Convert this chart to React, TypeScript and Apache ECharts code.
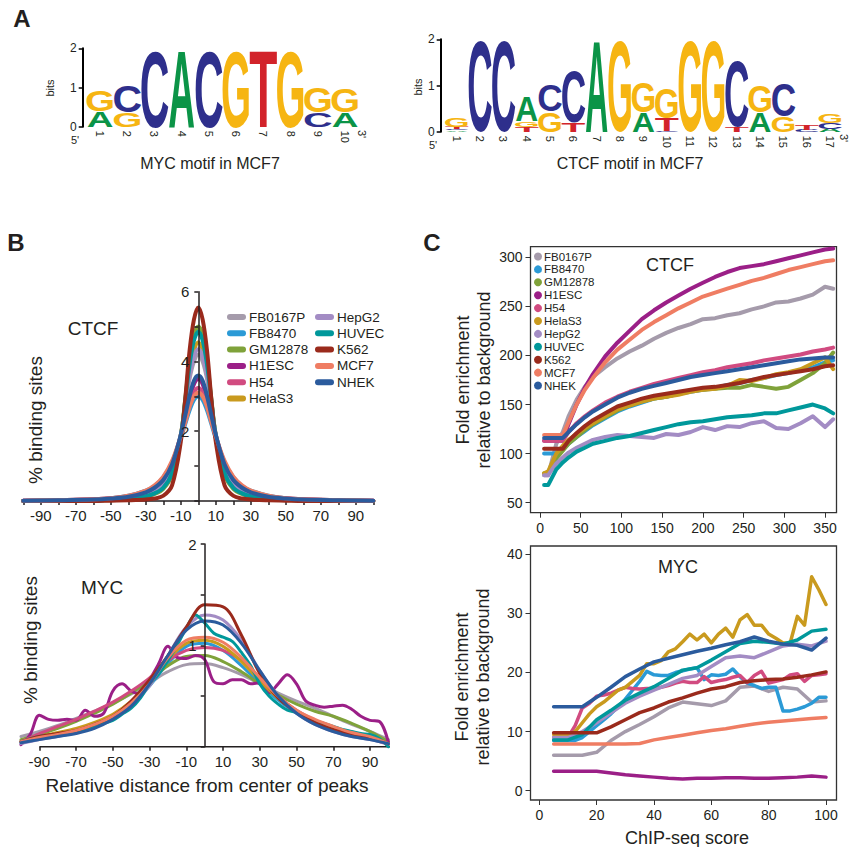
import React, { useEffect, useRef } from 'react';
import * as echarts from 'echarts';

const FONT = '"Liberation Sans", Arial, Helvetica, sans-serif';
const INK_COLOR = '#231f20';

// ---------- Panel A: sequence logos ----------
const LETTER_INDEX = ['A', 'C', 'G', 'T'];
const LOGO_COLORS: Record<string, string> = { A: '#0b9447', C: '#2e2f8c', G: '#f6b512', T: '#d2232a' };
const mycLogoPositions = ['1', '2', '3', '4', '5', '6', '7', '8', '9', '10'];
const mycLogoLetters = [['A', 'G'], ['G', 'C'], ['C'], ['A'], ['C'], ['G'], ['T'], ['G'], ['C', 'G'], ['A', 'G']];
const mycLogoBits = [[0.4, 0.55], [0.38, 0.66], [1.97], [2.0], [1.97], [1.97], [2.0], [1.97], [0.37, 0.63], [0.36, 0.62]];
const ctcfLogoPositions = ['1', '2', '3', '4', '5', '6', '7', '8', '9', '10', '11', '12', '13', '14', '15', '16', '17'];
const ctcfLogoLetters = [
  ['A', 'C', 'T', 'G'], ['C'], ['C'], ['T', 'G', 'A'], ['G', 'C'], ['T', 'C'], ['A'], ['G'], ['A', 'G'],
  ['C', 'T', 'G'], ['G'], ['G'], ['T', 'C'], ['A', 'G'], ['G', 'C'], ['C', 'T'], ['A', 'C', 'G'],
];
const ctcfLogoBits = [
  [0.03, 0.03, 0.04, 0.2], [1.97], [1.97], [0.1, 0.12, 0.55], [0.43, 0.56], [0.2, 1.12], [2.0], [1.97], [0.43, 0.65],
  [0.03, 0.27, 0.66], [1.97], [1.97], [0.12, 1.43], [0.43, 0.58], [0.33, 0.72], [0.04, 0.1], [0.07, 0.13, 0.2],
];

// ---------- Cell lines ----------
const cellLines = ['FB0167P', 'FB8470', 'GM12878', 'H1ESC', 'H54', 'HelaS3', 'HepG2', 'HUVEC', 'K562', 'MCF7', 'NHEK'];
const cellColors: Record<string, string> = {
  FB0167P: '#a59bab', FB8470: '#2b9ad6', GM12878: '#7fa23a', H1ESC: '#9b1f87', H54: '#d14b80', HelaS3: '#c99a1e',
  HepG2: '#a38cc4', HUVEC: '#00989b', K562: '#9a2a1c', MCF7: '#ef7d63', NHEK: '#2b5b9d',
};

// ---------- Panel B upper: CTCF distance profile ----------
const ctcfDistX = [-100, -80, -60, -50, -40, -30, -25, -20, -15, -10, -7.5, -5, -2.5, 0, 2.5, 5, 7.5, 10, 15, 20, 25, 30, 40, 50, 60, 80, 100];
const ctcfDist: Record<string, number[]> = {
  FB0167P: [0, 0.01, 0.03, 0.05, 0.1, 0.2, 0.3, 0.5, 0.95, 1.9, 2.7, 3.5, 4.0, 4.2, 4.0, 3.5, 2.7, 1.9, 0.95, 0.5, 0.3, 0.2, 0.1, 0.05, 0.03, 0.01, 0],
  FB8470: [0.01, 0.02, 0.05, 0.08, 0.15, 0.3, 0.43, 0.68, 1.1, 1.8, 2.2, 2.6, 2.9, 3.0, 2.9, 2.6, 2.2, 1.8, 1.1, 0.68, 0.43, 0.3, 0.15, 0.08, 0.05, 0.02, 0.01],
  GM12878: [0, 0.01, 0.02, 0.03, 0.06, 0.13, 0.2, 0.35, 0.75, 1.85, 2.9, 4.0, 4.75, 5.0, 4.75, 4.0, 2.9, 1.85, 0.75, 0.35, 0.2, 0.13, 0.06, 0.03, 0.02, 0.01, 0],
  H1ESC: [0.01, 0.02, 0.04, 0.07, 0.12, 0.25, 0.38, 0.6, 1.05, 1.85, 2.35, 2.9, 3.35, 3.5, 3.35, 2.9, 2.35, 1.85, 1.05, 0.6, 0.38, 0.25, 0.12, 0.07, 0.04, 0.02, 0.01],
  H54: [0.01, 0.02, 0.05, 0.08, 0.14, 0.28, 0.42, 0.65, 1.1, 1.85, 2.3, 2.75, 3.1, 3.25, 3.1, 2.75, 2.3, 1.85, 1.1, 0.65, 0.42, 0.28, 0.14, 0.08, 0.05, 0.02, 0.01],
  HelaS3: [0, 0.01, 0.02, 0.04, 0.08, 0.16, 0.25, 0.42, 0.85, 1.9, 2.8, 3.7, 4.3, 4.55, 4.3, 3.7, 2.8, 1.9, 0.85, 0.42, 0.25, 0.16, 0.08, 0.04, 0.02, 0.01, 0],
  HepG2: [0, 0.01, 0.03, 0.05, 0.09, 0.18, 0.27, 0.45, 0.9, 1.9, 2.75, 3.6, 4.15, 4.35, 4.15, 3.6, 2.75, 1.9, 0.9, 0.45, 0.27, 0.18, 0.09, 0.05, 0.03, 0.01, 0],
  HUVEC: [0, 0.01, 0.02, 0.04, 0.07, 0.14, 0.22, 0.38, 0.8, 1.85, 2.85, 3.9, 4.6, 4.85, 4.6, 3.9, 2.85, 1.85, 0.8, 0.38, 0.22, 0.14, 0.07, 0.04, 0.02, 0.01, 0],
  K562: [0, 0, 0, 0.01, 0.02, 0.04, 0.07, 0.15, 0.45, 1.7, 2.9, 4.3, 5.2, 5.55, 5.2, 4.3, 2.9, 1.7, 0.45, 0.15, 0.07, 0.04, 0.02, 0.01, 0, 0, 0],
  MCF7: [0.01, 0.02, 0.05, 0.08, 0.15, 0.3, 0.45, 0.7, 1.15, 1.85, 2.25, 2.7, 3.0, 3.1, 3.0, 2.7, 2.25, 1.85, 1.15, 0.7, 0.45, 0.3, 0.15, 0.08, 0.05, 0.02, 0.01],
  NHEK: [0.01, 0.02, 0.04, 0.07, 0.12, 0.25, 0.38, 0.6, 1.05, 1.9, 2.45, 3.0, 3.45, 3.6, 3.45, 3.0, 2.45, 1.9, 1.05, 0.6, 0.38, 0.25, 0.12, 0.07, 0.04, 0.02, 0.01],
};

// ---------- Panel B lower: MYC distance profile ----------
const mycDistX = [-100, -90, -80, -70, -60, -50, -40, -30, -20, -10, 0, 10, 20, 30, 40, 50, 60, 70, 80, 90, 100];
const mycDistFineX = [-100, -95, -90, -85, -80, -75, -70, -65, -60, -55, -50, -45, -40, -35, -30, -25, -20, -15, -10, -5, 0, 5, 10, 15, 20, 25, 30, 35, 40, 45, 50, 55, 60, 65, 70, 75, 80, 85, 90, 95, 100];
const mycDistAxisExtent = [-90, 101];
const mycDist: Record<string, number[]> = {
  FB0167P: [0.1, 0.15, 0.21, 0.28, 0.35, 0.43, 0.52, 0.63, 0.74, 0.81, 0.82, 0.78, 0.71, 0.62, 0.53, 0.45, 0.38, 0.3, 0.22, 0.15, 0.07],
  FB8470: [0.05, 0.1, 0.13, 0.17, 0.22, 0.3, 0.42, 0.6, 0.82, 0.99, 1.02, 0.95, 0.8, 0.62, 0.46, 0.33, 0.24, 0.17, 0.12, 0.08, 0.03],
  GM12878: [0.07, 0.12, 0.18, 0.25, 0.33, 0.42, 0.53, 0.66, 0.8, 0.89, 0.9, 0.84, 0.74, 0.62, 0.51, 0.42, 0.35, 0.3, 0.23, 0.15, 0.05],
  H54: [0.05, 0.13, 0.2, 0.27, 0.35, 0.44, 0.55, 0.68, 0.85, 0.95, 0.98, 0.95, 0.85, 0.68, 0.5, 0.36, 0.26, 0.18, 0.12, 0.08, 0.02],
  HelaS3: [0.05, 0.1, 0.14, 0.18, 0.24, 0.32, 0.45, 0.63, 0.86, 1.02, 1.05, 0.99, 0.84, 0.65, 0.48, 0.34, 0.25, 0.18, 0.13, 0.09, 0.03],
  HepG2: [0.03, 0.07, 0.1, 0.14, 0.2, 0.28, 0.4, 0.6, 0.9, 1.18, 1.3, 1.25, 1.05, 0.75, 0.5, 0.33, 0.22, 0.15, 0.1, 0.07, 0.03],
  K562: [0.05, 0.1, 0.13, 0.16, 0.22, 0.3, 0.45, 0.66, 0.9, 1.18, 1.4, 1.38, 1.1, 0.72, 0.48, 0.34, 0.24, 0.17, 0.12, 0.09, 0.03],
  MCF7: [0.05, 0.09, 0.12, 0.16, 0.22, 0.3, 0.43, 0.62, 0.88, 1.05, 1.08, 1.03, 0.88, 0.68, 0.5, 0.36, 0.27, 0.2, 0.14, 0.1, 0.03],
  NHEK: [0.04, 0.07, 0.1, 0.13, 0.18, 0.27, 0.4, 0.62, 0.9, 1.15, 1.24, 1.2, 1.02, 0.75, 0.5, 0.33, 0.22, 0.15, 0.1, 0.07, 0.03],
};
const mycDistFine: Record<string, number[]> = {
  H1ESC: [0.02, 0.12, 0.31, 0.27, 0.26, 0.27, 0.26, 0.36, 0.3, 0.33, 0.55, 0.62, 0.55, 0.52, 0.66, 0.82, 0.99, 0.88, 0.87, 0.9, 0.86, 0.64, 0.62, 0.66, 0.66, 0.62, 0.63, 0.53, 0.62, 0.71, 0.62, 0.45, 0.41, 0.39, 0.4, 0.41, 0.37, 0.3, 0.26, 0.25, 0.04],
  HUVEC: [0.05, 0.08, 0.1, 0.11, 0.12, 0.13, 0.15, 0.17, 0.2, 0.23, 0.26, 0.32, 0.38, 0.48, 0.62, 0.72, 0.85, 1.0, 1.17, 1.3, 1.22, 1.12, 1.08, 1.04, 0.93, 0.8, 0.62, 0.5, 0.42, 0.36, 0.34, 0.3, 0.26, 0.23, 0.2, 0.17, 0.15, 0.13, 0.12, 0.08, 0.0],
};

// ---------- Panel C upper: CTCF fold enrichment ----------
const ctcfScoreX = [5, 10, 20, 28, 35, 45, 55, 65, 80, 95, 110, 125, 140, 155, 170, 185, 200, 215, 230, 245, 260, 275, 290, 305, 320, 335, 350, 360];
const ctcfFold: Record<string, number[]> = {
  FB0167P: [78, 78, 110, 122, 138, 155, 168, 178, 188, 197, 204, 210, 217, 223, 228, 232, 237, 238, 241, 243, 247, 250, 254, 255, 258, 262, 270, 268],
  FB8470: [100, 100, 100, 104, 110, 117, 123, 129, 136, 143, 148, 152, 156, 158, 161, 163, 165, 167, 170, 172, 175, 177, 180, 182, 185, 188, 193, 195],
  GM12878: [80, 80, 95, 103, 110, 117, 124, 130, 137, 144, 149, 153, 156, 158, 161, 164, 165, 166, 167, 167, 170, 168, 166, 168, 175, 182, 192, 203],
  H1ESC: [113, 113, 113, 113, 130, 150, 167, 181, 199, 213, 225, 237, 246, 254, 261, 268, 274, 280, 285, 289, 291, 293, 296, 299, 302, 305, 308, 309],
  H54: [113, 113, 113, 113, 122, 131, 138, 144, 152, 158, 163, 167, 171, 174, 177, 180, 183, 185, 188, 190, 192, 195, 197, 199, 201, 204, 206, 208],
  HelaS3: [80, 82, 100, 108, 114, 120, 126, 131, 138, 145, 149, 153, 156, 158, 160, 163, 165, 166, 169, 175, 174, 177, 181, 183, 186, 192, 198, 186],
  HepG2: [78, 78, 90, 96, 101, 106, 110, 114, 117, 119, 118, 117, 116, 120, 119, 122, 127, 124, 128, 127, 131, 133, 126, 125, 131, 138, 127, 135],
  HUVEC: [68, 68, 84, 91, 96, 102, 106, 110, 113, 116, 118, 121, 124, 127, 130, 132, 133, 135, 137, 138, 139, 141, 141, 144, 147, 150, 146, 141],
  K562: [105, 105, 105, 105, 113, 121, 128, 134, 141, 148, 152, 156, 159, 161, 163, 165, 167, 168, 170, 172, 175, 178, 180, 182, 184, 186, 189, 190],
  MCF7: [119, 119, 119, 119, 132, 150, 165, 177, 193, 206, 216, 226, 234, 241, 248, 254, 260, 264, 268, 272, 276, 279, 283, 287, 290, 293, 296, 297],
  NHEK: [116, 116, 116, 116, 122, 130, 137, 143, 150, 157, 162, 166, 169, 172, 175, 178, 180, 182, 184, 186, 188, 190, 192, 194, 196, 197, 198, 198],
};

// ---------- Panel C lower: MYC fold enrichment ----------
const mycScoreX = [5, 10, 15, 20, 25, 30, 35, 40, 45, 50, 55, 60, 65, 70, 75, 80, 85, 90, 95, 100];
const mycScoreFineX = [5, 7.5, 10, 12.5, 15, 17.5, 20, 22.5, 25, 27.5, 30, 32.5, 35, 37.5, 40, 42.5, 45, 47.5, 50, 52.5, 55, 57.5, 60, 62.5, 65, 67.5, 70, 72.5, 75, 77.5, 80, 82.5, 85, 87.5, 90, 92.5, 95, 97.5, 100];
const mycFold: Record<string, number[]> = {
  FB0167P: [6, 6, 6, 6.5, 8.5, 10, 11.2, 12.5, 14, 15, 14.7, 14.4, 15.2, 17.5, 17.7, 16.8, 17.5, 17.2, 15, 15.2],
  H1ESC: [3.3, 3.3, 3.3, 3.3, 3.0, 2.7, 2.5, 2.3, 2.1, 2.0, 2.1, 2.1, 2.2, 2.2, 2.1, 2.1, 2.2, 2.3, 2.5, 2.3],
  HepG2: [9, 9, 10, 11.5, 13.2, 14.8, 16, 17, 18, 19, 19.5, 21, 22.5, 22.8, 22.5, 23.5, 24.5, 24.8, 24.5, 25.3],
  HUVEC: [8.6, 8.6, 9.5, 12, 13.6, 15.3, 16.5, 17.6, 19, 20.4, 20.8, 22.1, 23.5, 24.9, 25.3, 25.1, 24.8, 25.5, 27, 27.3],
  K562: [9.8, 9.8, 9.8, 9.8, 10.8, 12, 13.2, 14, 15, 15.7, 16.5, 17.2, 17.6, 18.3, 18.6, 18.8, 18.9, 19.2, 19.6, 20.1],
  MCF7: [7.9, 7.9, 7.9, 7.9, 7.9, 7.9, 8.0, 8.6, 9.0, 9.4, 9.8, 10.2, 10.5, 10.9, 11.3, 11.6, 11.8, 12.0, 12.2, 12.4],
  NHEK: [14.2, 14.2, 14.2, 15.8, 17.5, 19.3, 20.6, 21.8, 22.4, 23.0, 23.6, 24.1, 24.7, 25.2, 26, 25.3, 24.8, 24.6, 23.8, 25.8],
};
const mycFoldFine: Record<string, number[]> = {
  FB8470: [8.5, 8.5, 8.5, 8.5, 9, 10, 11, 12, 13, 14.2, 15.5, 17, 18.5, 20.2, 19.6, 19.5, 19.5, 20, 20.3, 20.6, 20.8, 18.8, 19.6, 19.5, 19.7, 20.6, 19.3, 18.2, 17.8, 17.3, 17.5, 17.5, 13.5, 13.5, 13.8, 14.2, 14.8, 15.8, 15.8],
  H54: [9, 9, 9, 11, 14, 14.8, 16, 16.2, 16.5, 17, 17.5, 17.3, 17.2, 17.3, 17.3, 17.5, 17.8, 18.2, 18.5, 18.3, 18.3, 19.3, 18.3, 18.6, 18.8, 19.2, 19.5, 18.3, 19.5, 20.2, 18.2, 18.5, 18.8, 19.6, 19.8, 18.5, 19.5, 19.6, 19.8],
  HelaS3: [9.5, 9.5, 9.5, 10, 11.5, 13, 14.2, 15, 16, 17, 17.5, 18.5, 19.5, 21.5, 21.5, 22, 23.5, 24, 25.2, 26.5, 25.5, 26.5, 25, 26.5, 27.5, 26, 28.9, 29.8, 28, 28, 26.5, 25.8, 25, 25, 29.5, 28, 36.2, 34, 31.5],
};
const mycFoldOrder = ['FB0167P', 'FB8470', 'H1ESC', 'H54', 'HelaS3', 'HepG2', 'HUVEC', 'K562', 'MCF7', 'NHEK'];

// ---------- Letter rendering constants ----------
const LFS = 40;
const CAP = 0.716;
const BASE = 0.3465;
const INK: Record<string, number> = { A: 0.72, C: 0.65, G: 0.69, T: 0.58 };

function buildLogo(letters: string[][], bits: number[][]) {
  const out: number[][] = [];
  letters.forEach((col, i) => {
    let base = 0;
    col.forEach((L, j) => {
      const h = bits[i][j];
      out.push([i, base, base + h, LETTER_INDEX.indexOf(L)]);
      base += h;
    });
  });
  return out;
}

function logoRenderItem(_params: any, api: any) {
  const pos = api.value(0);
  const y0 = api.value(1);
  const y1 = api.value(2);
  const L = LETTER_INDEX[api.value(3)];
  const pb = api.coord([pos, y0]);
  const pt = api.coord([pos, y1]);
  const bw = api.size([1, 0])[0];
  const h = pb[1] - pt[1];
  return {
    type: 'text',
    x: pb[0],
    y: pb[1],
    scaleX: (bw * 0.98) / (INK[L] * LFS),
    scaleY: h / (CAP * LFS),
    style: {
      text: L, x: 0, y: -BASE * LFS, fontSize: LFS, fontWeight: 'bold', fontFamily: FONT,
      fill: LOGO_COLORS[L], align: 'center', verticalAlign: 'middle',
    },
  };
}

function lineSeries(name: string, xs: number[], ys: number[], axis: number, width: number, smooth: boolean) {
  return {
    type: 'line', name, xAxisIndex: axis, yAxisIndex: axis,
    data: xs.map((x, i) => [x, ys[i]]),
    showSymbol: false, symbol: 'none', smooth: smooth ? 0.35 : false,
    lineStyle: { width, color: cellColors[name], cap: 'round', join: 'round' },
    itemStyle: { color: cellColors[name] },
    silent: true, clip: axis >= 4,
  };
}

function txt(text: string, x: number, y: number, size: number, opts: any = {}) {
  return {
    type: 'text', x, y, rotation: opts.rotation || 0, silent: true,
    style: {
      text, fontSize: size, fontFamily: FONT, fill: INK_COLOR, align: opts.align || 'center',
      verticalAlign: 'middle', fontWeight: opts.bold ? 'bold' : 'normal',
    },
  };
}

const capsule = 'path://M3,0 L16,0 A3,3 0 0 1 16,6 L3,6 A3,3 0 0 1 3,0 Z';

export default function App() {
  const ref = useRef<HTMLDivElement>(null);
  useEffect(() => {
    if (!ref.current) return;
    const chart = echarts.init(ref.current, undefined, { renderer: 'svg' });
    const axisLineStyle = { color: INK_COLOR, width: 1.5 };
    const labelBase = { color: INK_COLOR, fontFamily: FONT };

    const series: any[] = [];
    series.push({
      type: 'custom', xAxisIndex: 0, yAxisIndex: 0, renderItem: logoRenderItem,
      data: buildLogo(mycLogoLetters, mycLogoBits), encode: { x: 0, y: [1, 2] }, clip: false, silent: true,
    });
    series.push({
      type: 'custom', xAxisIndex: 1, yAxisIndex: 1, renderItem: logoRenderItem,
      data: buildLogo(ctcfLogoLetters, ctcfLogoBits), encode: { x: 0, y: [1, 2] }, clip: false, silent: true,
    });
    // baseline of the lower B panel (axis line drawn from -90 onward, as in the figure)
    series.push({
      type: 'line', name: 'baseline', xAxisIndex: 3, yAxisIndex: 3, silent: true, clip: false,
      data: mycDistAxisExtent.map((x) => [x, 0]), showSymbol: false, symbol: 'none', z: 1,
      lineStyle: { width: 1.5, color: INK_COLOR },
    });
    cellLines.forEach((n) => series.push(lineSeries(n, ctcfDistX, ctcfDist[n], 2, 4, true)));
    cellLines.forEach((n) => {
      series.push(mycDist[n]
        ? lineSeries(n, mycDistX, mycDist[n], 3, 3, true)
        : lineSeries(n, mycDistFineX, mycDistFine[n], 3, 3, true));
    });
    cellLines.forEach((n) => series.push(lineSeries(n, ctcfScoreX, ctcfFold[n], 4, 4, false)));
    mycFoldOrder.forEach((n) => {
      series.push(mycFold[n]
        ? lineSeries(n, mycScoreX, mycFold[n], 5, 3.5, false)
        : lineSeries(n, mycScoreFineX, mycFoldFine[n], 5, 3.5, false));
    });

    const logoY = (offset: number) => ({
      type: 'value', min: 0, max: 2, interval: 1, offset,
      axisLine: { show: true, lineStyle: { color: '#000', width: 2 } },
      axisTick: { show: true, length: 4, lineStyle: { color: '#000', width: 1.5 } },
      axisLabel: { ...labelBase, fontSize: 12, margin: 6 },
      splitLine: { show: false },
    });
    const logoX = (cats: string[]) => ({
      type: 'category', data: cats, boundaryGap: true,
      axisLine: { show: false }, axisTick: { show: false },
      axisLabel: { ...labelBase, fontSize: 11, rotate: -90, margin: 4, interval: 0 },
    });
    const cBoxX = (min: number, max: number, vals: number[]) => ({
      type: 'value', min, max, axisLine: { show: false, onZero: false },
      axisTick: { show: true, length: 5, customValues: vals, lineStyle: { color: '#333', width: 1 } },
      axisLabel: { ...labelBase, fontSize: 14, margin: 8, customValues: vals },
      splitLine: { show: false },
    });

    const option: any = {
      animation: false,
      backgroundColor: '#ffffff',
      grid: [
        { left: 86.4, top: 48.3, width: 272.2, height: 78.4 },
        { left: 445, top: 39.3, width: 396.7, height: 92.4 },
        { left: 23.3, top: 291.7, width: 350, height: 209.3 },
        { left: 21, top: 544, width: 367.4, height: 202.7 },
        { left: 530.5, top: 246.7, width: 306, height: 266, show: true, borderColor: '#333', borderWidth: 1.3 },
        { left: 530.5, top: 546, width: 306, height: 254, show: true, borderColor: '#333', borderWidth: 1.3 },
      ],
      xAxis: [
        { ...logoX(mycLogoPositions), gridIndex: 0 },
        { ...logoX(ctcfLogoPositions), gridIndex: 1 },
        {
          type: 'value', gridIndex: 2, min: -100, max: 100, interval: 10,
          axisLine: { show: true, onZero: false, lineStyle: axisLineStyle },
          axisTick: { show: true, length: 4, lineStyle: axisLineStyle },
          axisLabel: { ...labelBase, fontSize: 15, margin: 7, formatter: (v: number) => (Math.abs(v) % 20 === 10 ? String(v) : '') },
          splitLine: { show: false },
        },
        {
          type: 'value', gridIndex: 3, min: -100, max: 100, interval: 10,
          axisLine: { show: false, onZero: false },
          axisTick: { show: true, length: 4, customValues: [-90, -70, -50, -30, -10, 10, 30, 50, 70, 90], lineStyle: axisLineStyle },
          axisLabel: { ...labelBase, fontSize: 15, margin: 7, customValues: [-90, -70, -50, -30, -10, 10, 30, 50, 70, 90] },
          splitLine: { show: false },
        },
        { ...cBoxX(-11.7, 364.1, [0, 50, 100, 150, 200, 250, 300, 350]), gridIndex: 4 },
        { ...cBoxX(-3.07, 103.66, [0, 20, 40, 60, 80, 100]), gridIndex: 5 },
      ],
      yAxis: [
        { ...logoY(3.7), gridIndex: 0 },
        { ...logoY(4.3), gridIndex: 1 },
        {
          type: 'value', gridIndex: 2, min: 0, max: 6, interval: 1, z: 10, offset: -175,
          axisLine: { show: true, onZero: false, lineStyle: axisLineStyle },
          axisTick: { show: true, length: 4, lineStyle: axisLineStyle },
          axisLabel: { ...labelBase, fontSize: 15, margin: 9, formatter: (v: number) => (v > 0 && v % 2 === 0 ? String(v) : '') },
          splitLine: { show: false },
        },
        {
          type: 'value', gridIndex: 3, min: 0, max: 2, interval: 0.5, z: 10, offset: -183.7,
          axisLine: { show: true, onZero: false, lineStyle: axisLineStyle },
          axisTick: { show: true, length: 4, lineStyle: axisLineStyle },
          axisLabel: { ...labelBase, fontSize: 15, margin: 8, formatter: (v: number) => (v === 1 || v === 2 ? String(v) : '') },
          splitLine: { show: false },
        },
        { ...cBoxX(39.8, 310.8, [50, 100, 150, 200, 250, 300]), gridIndex: 4 },
        { ...cBoxX(-1.57, 41.4, [0, 10, 20, 30, 40]), gridIndex: 5 },
      ],
      legend: [
        {
          orient: 'vertical', left: 227, top: 310, padding: 0, itemWidth: 19, itemHeight: 6, itemGap: 2.3,
          icon: capsule, selectedMode: false, data: cellLines.slice(0, 6),
          textStyle: { ...labelBase, fontSize: 13.5, lineHeight: 13.5, padding: [0, 0, 0, -2] },
        },
        {
          orient: 'vertical', left: 315, top: 310, padding: 0, itemWidth: 19, itemHeight: 6, itemGap: 2.3,
          icon: capsule, selectedMode: false, data: cellLines.slice(6),
          textStyle: { ...labelBase, fontSize: 13.5, lineHeight: 13.5, padding: [0, 0, 0, -2] },
        },
        {
          orient: 'vertical', left: 534, top: 250.5, padding: 0, itemWidth: 8, itemHeight: 8, itemGap: 0.9,
          icon: 'circle', selectedMode: false, data: cellLines,
          textStyle: { ...labelBase, fontSize: 11.5, lineHeight: 11.5, padding: [0, 0, 0, -3] },
        },
      ],
      graphic: [
        txt('A', 22, 18, 24, { bold: true }),
        txt('bits', 50, 88, 11, { rotation: Math.PI / 2 }),
        txt("5'", 75, 140, 11),
        txt("3'", 362, 134, 11, { rotation: -Math.PI / 2 }),
        txt('MYC motif in MCF7', 210, 163, 16),
        txt('bits', 418, 87, 11, { rotation: Math.PI / 2 }),
        txt("5'", 433, 145, 11),
        txt("3'", 844, 138, 11, { rotation: -Math.PI / 2 }),
        txt('CTCF motif in MCF7', 630, 163, 16),
        txt('B', 16, 242, 24, { bold: true }),
        txt('C', 432, 242, 24, { bold: true }),
        txt('CTCF', 93, 328, 19),
        txt('% binding sites', 35, 420, 19, { rotation: Math.PI / 2 }),
        txt('MYC', 102, 587, 19),
        txt('% binding sites', 30, 640, 19, { rotation: Math.PI / 2 }),
        txt('Relative distance from center of peaks', 207, 785, 19),
        txt('CTCF', 670, 265, 18),
        txt('Fold enrichment', 463, 380, 18, { rotation: Math.PI / 2 }),
        txt('relative to background', 484, 380, 18, { rotation: Math.PI / 2 }),
        txt('MYC', 678, 567, 18),
        txt('Fold enrichment', 462, 677, 18, { rotation: Math.PI / 2 }),
        txt('relative to background', 483, 677, 18, { rotation: Math.PI / 2 }),
        txt('ChIP-seq score', 687, 838, 18),
      ],
      series,
    };
    chart.setOption(option);
    return () => chart.dispose();
  }, []);
  return (
    <div
      ref={ref}
      style={{ position: 'fixed', left: 0, top: 0, width: 851, height: 847, background: '#fff' }}
    />
  );
}
